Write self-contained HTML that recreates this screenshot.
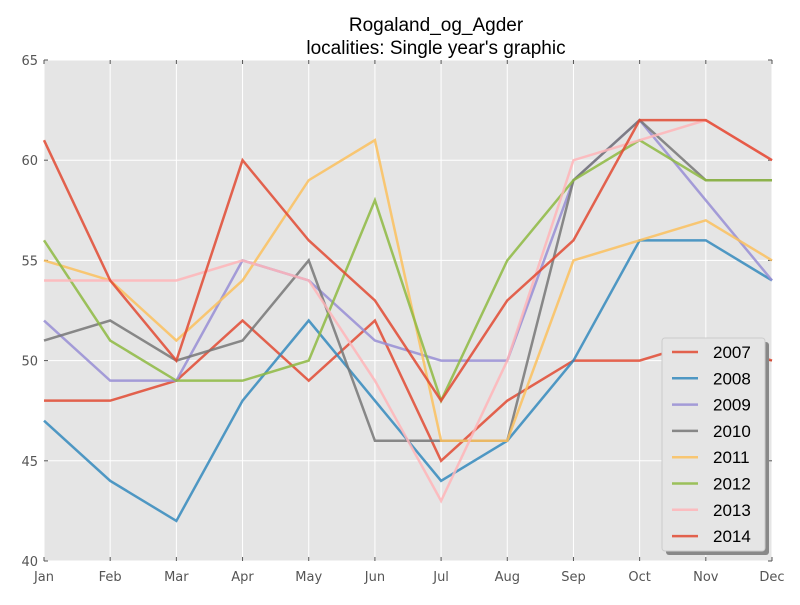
<!DOCTYPE html>
<html><head><meta charset="utf-8"><style>
body{margin:0;background:#fff;}
svg text{font-family:"DejaVu Sans","Liberation Sans",sans-serif;}
</style></head><body>
<svg id="chart" width="800" height="600">
<rect x="0" y="0" width="800" height="600" fill="#fff"/>
<text x="436" y="31" text-anchor="middle" font-size="19" fill="#000" style="font-family:'Liberation Sans',sans-serif">Rogaland_og_Agder</text>
<text x="436" y="54" text-anchor="middle" font-size="19" fill="#000" style="font-family:'Liberation Sans',sans-serif">localities: Single year's graphic</text>
<rect x="44" y="60" width="728" height="501" fill="#E5E5E5"/>
<g id="grid"></g><g id="axes"></g><g id="lines"></g><g id="legend"></g>
</svg>
<script>
const months=["Jan","Feb","Mar","Apr","May","Jun","Jul","Aug","Sep","Oct","Nov","Dec"];
const yTicks=[40,45,50,55,60,65];
const years=["2007","2008","2009","2010","2011","2012","2013","2014"];
const s2007=[48,48,49,52,49,52,45,48,50,50,51,50];
const s2008=[47,44,42,48,52,48,44,46,50,56,56,54];
const s2009=[52,49,49,55,54,51,50,50,59,62,58,54];
const s2010=[51,52,50,51,55,46,46,46,59,62,59,59];
const s2011=[55,54,51,54,59,61,46,46,55,56,57,55];
const s2012=[56,51,49,49,50,58,48,55,59,61,59,59];
const s2013=[54,54,54,55,54,49,43,50,60,61,62,60];
const s2014=[61,54,50,60,56,53,48,53,56,62,62,60];
const series=[s2007,s2008,s2009,s2010,s2011,s2012,s2013,s2014];
const colors=["#E24A33","#348ABD","#988ED5","#777777","#FBC15E","#8EBA42","#FFB5B8","#E24A33"];
const L=44,R=772,T=60,B=561,ymin=40,ymax=65;
const xs=i=>L+(R-L)*i/(months.length-1);
const ys=v=>B-(B-T)*(v-ymin)/(ymax-ymin);
const NS="http://www.w3.org/2000/svg";
function mk(tag,attrs,parent){const e=document.createElementNS(NS,tag);for(const k in attrs)e.setAttribute(k,attrs[k]);parent.appendChild(e);return e;}
const grid=document.getElementById('grid'),axes=document.getElementById('axes'),lines=document.getElementById('lines'),leg=document.getElementById('legend');
months.forEach((m,i)=>{
  const x=xs(i);
  const g=mk('line',{x1:x,x2:x,y1:T,y2:B,stroke:'#fff','stroke-width':1},grid);
  
  
  mk('line',{x1:x,x2:x,y1:B,y2:B-4,stroke:'#555','stroke-width':1},axes);
  mk('line',{x1:x,x2:x,y1:T,y2:T+4,stroke:'#555','stroke-width':1},axes);
  const t=mk('text',{x:x,y:B+20,'text-anchor':'middle','font-size':13,fill:'#555'},axes);
  t.textContent=m;
  
  
});
yTicks.forEach(v=>{
  const y=ys(v);
  const g=mk('line',{x1:L,x2:R,y1:y,y2:y,stroke:'#fff','stroke-width':1},grid);
  
  
  mk('line',{x1:L,x2:L+4,y1:y,y2:y,stroke:'#555','stroke-width':1},axes);
  mk('line',{x1:R,x2:R-4,y1:y,y2:y,stroke:'#555','stroke-width':1},axes);
  const t=mk('text',{x:L-6,y:y+5,'text-anchor':'end','font-size':13,fill:'#555'},axes);
  t.textContent=v;
  
  
});
series.forEach((s,k)=>{
  const p=mk('polyline',{points:s.map((v,i)=>xs(i)+','+ys(v)).join(' '),fill:'none',stroke:colors[k],'stroke-width':2.5,'stroke-opacity':0.85,'stroke-linejoin':'miter'},lines);
  
  
});
mk('rect',{x:666,y:342,width:103,height:213,fill:'#888',rx:3},leg);
const box=mk('rect',{x:662,y:338,width:103,height:213,fill:'#E5E5E5',stroke:'#ccc','stroke-width':1,rx:3},leg);


years.forEach((yr,k)=>{
  const y=352+k*26.3;
  mk('line',{x1:672,x2:698,y1:y,y2:y,stroke:colors[k],'stroke-width':2.5,'stroke-opacity':0.85},leg);
  const t=mk('text',{x:713,y:y+6,'font-size':17,fill:'#000',style:"font-family:'Liberation Sans',sans-serif"},leg);
  t.textContent=yr;
  
  
});
</script>
</body></html>
